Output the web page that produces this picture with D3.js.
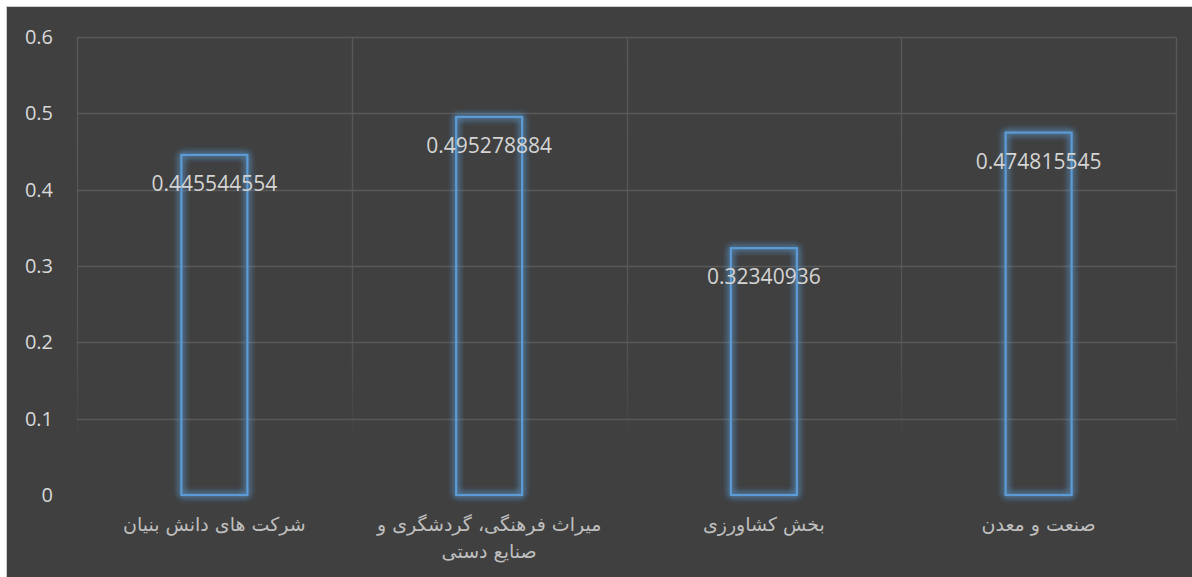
<!DOCTYPE html>
<html>
<head>
<meta charset="utf-8">
<script src="https://cdn.jsdelivr.net/npm/d3@7"></script>
<style>
  html, body { margin: 0; padding: 0; background: #ffffff; }
  svg { display: block; }
</style>
</head>
<body>
<svg id="chart" width="1192" height="577"></svg>
<script>
// ---- data ----
const categories = [
  "شرکت های دانش بنیان",
  "میراث فرهنگی، گردشگری و صنایع دستی",
  "بخش کشاورزی",
  "صنعت و معدن"
];
const values = [0.445544554, 0.495278884, 0.32340936, 0.474815545];
const valueLabels = ["0.445544554", "0.495278884", "0.32340936", "0.474815545"];
const yTicks = [0, 0.1, 0.2, 0.3, 0.4, 0.5, 0.6];
const yTickLabels = ["0", "0.1", "0.2", "0.3", "0.4", "0.5", "0.6"];

// ---- layout ----
const W = 1192, H = 577;
const plot = { left: 77, right: 1176, top: 37, bottom: 495 };
const svg = d3.select("#chart");

const defs = svg.append("defs");
const glow = defs.append("filter").attr("id", "glow")
  .attr("x", "-30%").attr("y", "-10%").attr("width", "160%").attr("height", "120%");
glow.append("feGaussianBlur").attr("in", "SourceGraphic").attr("stdDeviation", 3.5).attr("result", "b");
const m = glow.append("feMerge");
m.append("feMergeNode").attr("in", "b");
m.append("feMergeNode").attr("in", "b");
m.append("feMergeNode").attr("in", "SourceGraphic");

const fade = defs.append("linearGradient").attr("id", "vfade")
  .attr("gradientUnits", "userSpaceOnUse")
  .attr("x1", 0).attr("x2", 0).attr("y1", plot.top).attr("y2", 445);
fade.append("stop").attr("offset", "0%").attr("stop-color", "#595959").attr("stop-opacity", 1);
fade.append("stop").attr("offset", "75%").attr("stop-color", "#595959").attr("stop-opacity", 0.8);
fade.append("stop").attr("offset", "100%").attr("stop-color", "#595959").attr("stop-opacity", 0);

// background
svg.append("rect").attr("x", 6.5).attr("y", 6.5).attr("width", W).attr("height", H)
  .attr("fill", "#404040").attr("stroke", "#cfcfcf").attr("stroke-width", 1);

const x = d3.scaleBand().domain(categories).range([plot.left, plot.right]).paddingInner(0).paddingOuter(0);
const y = d3.scaleLinear().domain([0, 0.6]).range([plot.bottom, plot.top]);

// horizontal gridlines
svg.append("g").selectAll("line").data(yTicks.filter(t => t > 0)).join("line")
  .attr("x1", plot.left).attr("x2", plot.right)
  .attr("y1", d => Math.round(y(d)) + 0.5).attr("y2", d => Math.round(y(d)) + 0.5)
  .attr("stroke", "#595959").attr("stroke-width", 1.3);

// vertical gridlines (category boundaries)
const bounds = categories.map(c => x(c)).concat([plot.right]);
svg.append("g").selectAll("line").data(bounds).join("line")
  .attr("x1", d => Math.round(d) + 0.5).attr("x2", d => Math.round(d) + 0.5)
  .attr("y1", plot.top).attr("y2", 445)
  .attr("stroke", "url(#vfade)").attr("stroke-width", 1.3);

// y axis labels
const yAxis = d3.axisLeft(y).tickValues(yTicks).tickFormat((d, i) => yTickLabels[i]).tickSize(0).tickPadding(24);
const ya = svg.append("g").attr("transform", `translate(${plot.left},0)`).call(yAxis);
ya.select(".domain").remove();
ya.selectAll("text").attr("fill", "#d9d9d9").attr("font-family", "'Open Sans', sans-serif").attr("font-size", 20);

// bars
const bw = 66;
svg.append("g").selectAll("rect").data(values).join("rect")
  .attr("x", (d, i) => x(categories[i]) + x.bandwidth() / 2 - bw / 2)
  .attr("y", d => y(d))
  .attr("width", bw)
  .attr("height", d => y(0) - y(d))
  .attr("fill", "none")
  .attr("stroke", "#5b9bd5")
  .attr("stroke-width", 2.2)
  .attr("filter", "url(#glow)");

// value labels
svg.append("g").selectAll("text").data(values).join("text")
  .attr("x", (d, i) => x(categories[i]) + x.bandwidth() / 2)
  .attr("y", d => y(d) + 36)
  .attr("text-anchor", "middle")
  .attr("fill", "#d4d4d4")
  .attr("font-family", "'Open Sans', sans-serif")
  .attr("font-size", 21)
  .text((d, i) => valueLabels[i]);

// category labels with wrapping
const xAxis = d3.axisBottom(x).tickSize(0).tickPadding(0);
const xa = svg.append("g").attr("transform", `translate(0,${plot.bottom})`).call(xAxis);
xa.select(".domain").remove();
xa.selectAll("text").remove();
const maxW = 245;
xa.selectAll(".tick").each(function (d) {
  const g = d3.select(this);
  const t = g.append("text")
    .attr("direction", "rtl")
    .attr("text-anchor", "middle")
    .attr("fill", "#bfbfbf")
    .attr("font-family", "'DejaVu Sans', sans-serif")
    .attr("font-size", 19)
    .attr("y", 36);
  const words = d.split(" ");
  let lines = [], cur = [];
  const probe = t.append("tspan");
  words.forEach(w => {
    const test = cur.concat([w]).join(" ");
    probe.text(test);
    if (probe.node().getComputedTextLength() > maxW && cur.length) {
      lines.push(cur.join(" "));
      cur = [w];
    } else cur.push(w);
  });
  lines.push(cur.join(" "));
  probe.remove();
  lines.forEach((ln, i) => {
    t.append("tspan").attr("x", 0).attr("y", 36 + i * 27).text(ln);
  });
});
</script>
</body>
</html>
